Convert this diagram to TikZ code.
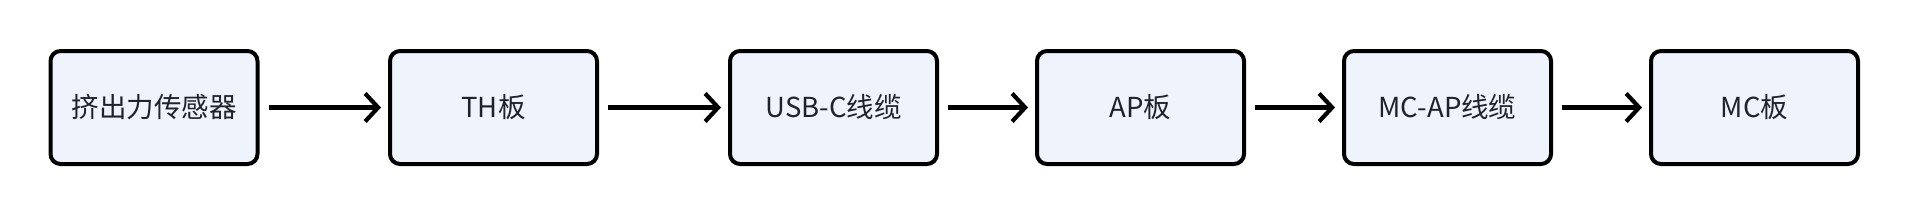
\documentclass[tikz,border=0pt]{standalone}
\usepackage{fontspec}
\setmainfont{Noto Sans CJK SC}
\usetikzlibrary{arrows.meta}
\definecolor{boxfill}{HTML}{EEF3FC}
\definecolor{txt}{HTML}{1F2329}
\tikzset{
  stagebox/.style={draw=black, fill=boxfill, line width=4pt, rounded corners=10pt,
    minimum width=207pt, minimum height=113pt, inner sep=0pt,
    font=\fontsize{27.5}{32}\selectfont, text=txt},
  flowarrow/.style={line width=4.2pt, -{Straight Barb[length=13pt,width=28pt,line width=4.2pt]},
    shorten <=9pt, shorten >=7pt}
}
\begin{document}
\begin{tikzpicture}
\useasboundingbox (0pt,0pt) rectangle (1910pt,-214pt);
\node[stagebox] (n1) at (154pt,-107.5pt) {挤出力传感器};
\node[stagebox] (n2) at (493.5pt,-107.5pt) {TH板};
\node[stagebox] (n3) at (833.5pt,-107.5pt) {USB-C线缆};
\node[stagebox] (n4) at (1140.5pt,-107.5pt) {AP板};
\node[stagebox] (n5) at (1447.5pt,-107.5pt) {MC-AP线缆};
\node[stagebox] (n6) at (1754.5pt,-107.5pt) {MC板};
\draw[flowarrow] (n1) -- (n2);
\draw[flowarrow] (n2) -- (n3);
\draw[flowarrow] (n3) -- (n4);
\draw[flowarrow] (n4) -- (n5);
\draw[flowarrow] (n5) -- (n6);
\end{tikzpicture}
\end{document}
